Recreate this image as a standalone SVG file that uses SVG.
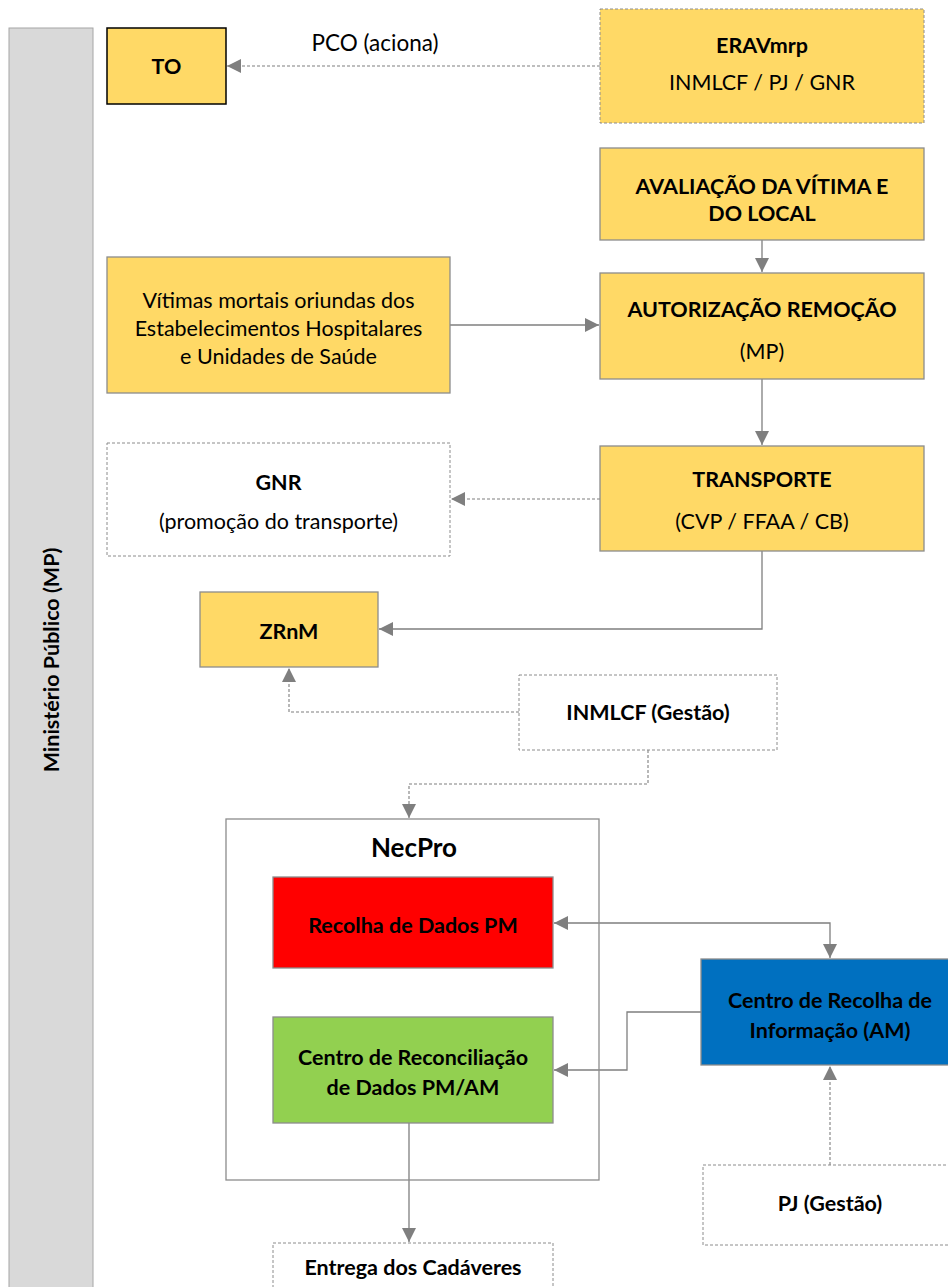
<svg xmlns="http://www.w3.org/2000/svg" width="948" height="1287" viewBox="0 0 948 1287">
<style>
.t{font-family:Lato,"Liberation Sans",sans-serif;font-size:21.5px;fill:#000;text-anchor:middle}
.b{font-weight:bold}
.y{fill:#ffd966;stroke:#8c8c8c;stroke-width:1.3}
.d{fill:none;stroke:#8c8c8c;stroke-width:1;stroke-dasharray:3 2}
.c{fill:none;stroke:#7f7f7f;stroke-width:1.3}
.cd{fill:none;stroke:#7f7f7f;stroke-width:1.1;stroke-dasharray:3 2}
</style>
<defs>
<marker id="a" viewBox="0 0 10 10" refX="10" refY="5" markerWidth="14" markerHeight="14" markerUnits="userSpaceOnUse" orient="auto">
<path d="M0,0 L10,5 L0,10 Z" fill="#7f7f7f"/>
</marker>
<marker id="as" viewBox="0 0 10 10" refX="10" refY="5" markerWidth="14" markerHeight="14" markerUnits="userSpaceOnUse" orient="auto-start-reverse">
<path d="M0,0 L10,5 L0,10 Z" fill="#7f7f7f"/>
</marker>
</defs>
<rect width="948" height="1287" fill="#fff"/>
<g id="mp">
<rect x="9" y="28" width="84" height="1270" fill="#d9d9d9" stroke="#a6a6a6" stroke-width="1"/>
<text class="t b" transform="translate(59 660) rotate(-90)">Ministério Público (MP)</text>
</g>
<g id="connectors">
<line class="cd" x1="600" y1="66" x2="227" y2="66" marker-end="url(#a)"/>
<line class="c" x1="762" y1="240" x2="762" y2="272" marker-end="url(#a)"/>
<line class="c" x1="450" y1="325" x2="599" y2="325" marker-end="url(#a)"/>
<line class="c" x1="762" y1="379" x2="762" y2="445" marker-end="url(#a)"/>
<line class="cd" x1="600" y1="499" x2="451" y2="499" marker-end="url(#a)"/>
<polyline class="c" points="762,551 762,629 379,629" marker-end="url(#a)"/>
<polyline class="cd" points="519,712 289,712 289,668" marker-end="url(#a)"/>
<polyline class="cd" points="648,750 648,784 409,784 409,818" marker-end="url(#a)"/>
<polyline class="c" points="554,923 830,923 830,958" marker-start="url(#as)" marker-end="url(#a)"/>
<polyline class="c" points="701,1012 627,1012 627,1070 554,1070" marker-end="url(#a)"/>
<line class="c" x1="409" y1="1123" x2="409" y2="1242" marker-end="url(#a)"/>
<line class="cd" x1="830" y1="1165" x2="830" y2="1066" marker-end="url(#a)"/>
</g>
<text class="t" x="375" y="51" style="font-size:22.5px">PCO (aciona)</text>
<g id="to">
<rect x="107" y="28" width="119" height="76" fill="#ffd966" stroke="#000" stroke-width="1.5"/>
<text class="t b" x="166.5" y="74">TO</text>
</g>
<g id="eravmrp">
<rect x="600" y="9" width="324" height="114" fill="#ffd966" stroke="#8c8c8c" stroke-width="1" stroke-dasharray="3 2"/>
<text class="t b" x="762" y="53">ERAVmrp</text>
<text class="t" x="762" y="90">INMLCF / PJ / GNR</text>
</g>
<g id="avaliacao">
<rect class="y" x="600" y="148" width="324" height="92"/>
<text class="t b" x="762" y="194">AVALIAÇÃO DA VÍTIMA E</text>
<text class="t b" x="762" y="221">DO LOCAL</text>
</g>
<g id="vitimas">
<rect class="y" x="107" y="257" width="343" height="136"/>
<text class="t" x="278.5" y="308">Vítimas mortais oriundas dos</text>
<text class="t" x="278.5" y="336">Estabelecimentos Hospitalares</text>
<text class="t" x="278.5" y="364">e Unidades de Saúde</text>
</g>
<g id="autorizacao">
<rect class="y" x="600" y="273" width="324" height="106"/>
<text class="t b" x="762" y="317">AUTORIZAÇÃO REMOÇÃO</text>
<text class="t" x="762" y="359">(MP)</text>
</g>
<g id="gnr">
<rect class="d" x="107" y="443" width="343" height="113"/>
<text class="t b" x="278.5" y="490">GNR</text>
<text class="t" x="278.5" y="529">(promoção do transporte)</text>
</g>
<g id="transporte">
<rect class="y" x="600" y="446" width="324" height="105"/>
<text class="t b" x="762" y="487">TRANSPORTE</text>
<text class="t" x="762" y="529">(CVP / FFAA / CB)</text>
</g>
<g id="zrnm">
<rect class="y" x="200" y="592" width="178" height="75"/>
<text class="t b" x="289" y="639">ZRnM</text>
</g>
<g id="inmlcf">
<rect class="d" x="519" y="675" width="258" height="75"/>
<text class="t b" x="648" y="720">INMLCF (Gestão)</text>
</g>
<g id="necpro">
<rect x="226" y="819" width="373" height="361" fill="none" stroke="#8c8c8c" stroke-width="1.3"/>
<text class="t b" x="414" y="857" style="font-size:26px">NecPro</text>
</g>
<g id="recolha-pm">
<rect x="273" y="877" width="280" height="91" fill="#ff0000" stroke="#8c8c8c" stroke-width="1.3"/>
<text class="t b" x="413" y="933">Recolha de Dados PM</text>
</g>
<g id="reconciliacao">
<rect x="273" y="1017" width="280" height="106" fill="#92d050" stroke="#8c8c8c" stroke-width="1.3"/>
<text class="t b" x="413" y="1065">Centro de Reconciliação</text>
<text class="t b" x="413" y="1095">de Dados PM/AM</text>
</g>
<g id="centro-am">
<rect x="701" y="959" width="258" height="106" fill="#0070c0" stroke="#8c8c8c" stroke-width="1.3"/>
<text class="t b" x="830" y="1008">Centro de Recolha de</text>
<text class="t b" x="830" y="1038">Informação (AM)</text>
</g>
<g id="pj">
<rect class="d" x="703" y="1165" width="260" height="80"/>
<text class="t b" x="830" y="1211">PJ (Gestão)</text>
</g>
<g id="entrega">
<rect class="d" x="273" y="1243" width="280" height="60"/>
<text class="t b" x="413" y="1275">Entrega dos Cadáveres</text>
</g>
</svg>
